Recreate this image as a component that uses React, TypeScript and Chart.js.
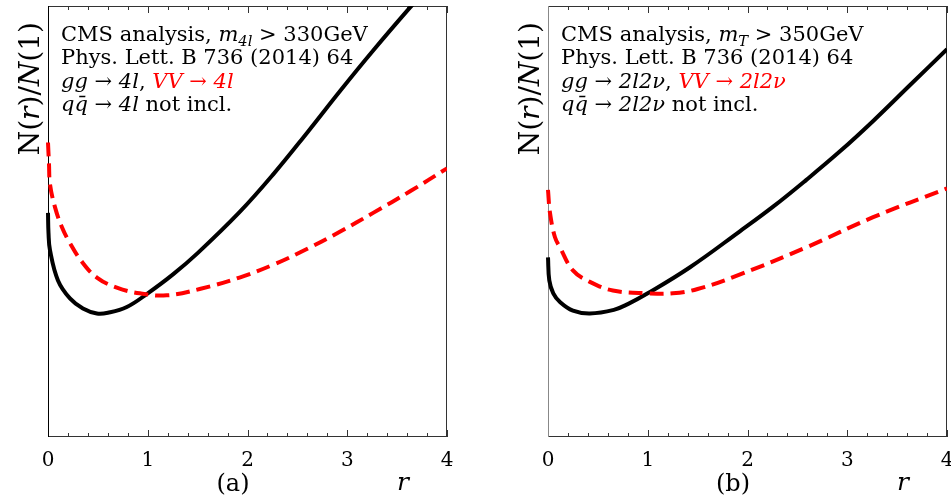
import { useEffect, useRef } from "react";
import { Chart, registerables } from "chart.js";
Chart.register(...registerables);

// ---------- data ----------
const X_TICK_STEP = 1;
const X_MIN = 0;
const X_MAX = 4;
const Y_MIN = 0;
const Y_MAX = 3;

// Panel (a): gg -> 4l (black), VV -> 4l (red dashed)
const A_GG_R = [0, 0.005, 0.02, 0.1, 0.22, 0.35, 0.49, 0.6, 0.79, 1.0, 1.25, 1.5, 1.92, 2.26, 2.6, 2.93, 3.26, 3.63, 4.0];
const A_GG_N = [1.56, 1.42, 1.3, 1.09, 0.965, 0.895, 0.86, 0.865, 0.905, 1.0, 1.13, 1.28, 1.565, 1.83, 2.12, 2.41, 2.69, 2.99, 3.28];
const A_VV_R = [0, 0.01, 0.02, 0.07, 0.14, 0.22, 0.34, 0.49, 0.69, 0.92, 1.19, 1.52, 1.92, 2.26, 2.6, 2.93, 3.26, 3.63, 4.0];
const A_VV_N = [2.05, 1.9, 1.76, 1.6, 1.46, 1.35, 1.22, 1.11, 1.04, 1.0, 0.986, 1.03, 1.11, 1.2, 1.31, 1.43, 1.56, 1.71, 1.87];

// Panel (b): gg -> 2l2nu (black), VV -> 2l2nu (red dashed)
const B_GG_R = [0, 0.013, 0.053, 0.12, 0.25, 0.42, 0.66, 0.8, 1.0, 1.42, 1.92, 2.26, 2.59, 2.93, 3.26, 3.63, 4.0];
const B_GG_N = [1.25, 1.09, 1.0, 0.94, 0.88, 0.86, 0.885, 0.925, 1.0, 1.18, 1.43, 1.605, 1.79, 1.99, 2.2, 2.45, 2.7];
const B_VV_R = [0, 0.02, 0.07, 0.12, 0.25, 0.42, 0.65, 1.0, 1.25, 1.5, 1.92, 2.59, 3.26, 4.0];
const B_VV_N = [1.72, 1.56, 1.39, 1.32, 1.16, 1.08, 1.02, 1.0, 1.0, 1.03, 1.13, 1.32, 1.53, 1.73];

type Seg = { t: string; it?: boolean; c?: string; sub?: boolean };

const RED = "#ff0000";

const A_TEXT: Seg[][] = [
  [{ t: "CMS analysis, " }, { t: "m", it: true }, { t: "4l", it: true, sub: true }, { t: " > 330GeV" }],
  [{ t: "Phys. Lett. B 736 (2014) 64" }],
  [{ t: "gg → 4l", it: true }, { t: ", " }, { t: "VV → 4l", it: true, c: RED }],
  [{ t: "qq̄ → 4l", it: true }, { t: " not incl." }],
];
const B_TEXT: Seg[][] = [
  [{ t: "CMS analysis, " }, { t: "m", it: true }, { t: "T", it: true, sub: true }, { t: " > 350GeV" }],
  [{ t: "Phys. Lett. B 736 (2014) 64" }],
  [{ t: "gg → 2l2ν", it: true }, { t: ", " }, { t: "VV → 2l2ν", it: true, c: RED }],
  [{ t: "qq̄ → 2l2ν", it: true }, { t: " not incl." }],
];
const Y_TITLE: Seg[] = [{ t: "N(" }, { t: "r", it: true }, { t: ")/" }, { t: "N", it: true }, { t: "(1)" }];
const X_TITLE: Seg[] = [{ t: "r", it: true }];

const FONT = '"DejaVu Serif"';

function segFont(s: Seg, size: number) {
  const sz = s.sub ? size * 0.7 : size;
  return `${s.it ? "italic " : ""}${sz}px ${FONT}`;
}
function segsWidth(ctx: CanvasRenderingContext2D, segs: Seg[], size: number) {
  let w = 0;
  for (const s of segs) {
    ctx.font = segFont(s, size);
    w += ctx.measureText(s.t).width;
  }
  return w;
}
function drawSegs(ctx: CanvasRenderingContext2D, segs: Seg[], x: number, y: number, size: number) {
  ctx.textAlign = "left";
  ctx.textBaseline = "alphabetic";
  for (const s of segs) {
    ctx.font = segFont(s, size);
    ctx.fillStyle = s.c || "#000";
    ctx.fillText(s.t, x, y + (s.sub ? size * 0.25 : 0));
    x += ctx.measureText(s.t).width;
  }
}

type PanelProps = {
  ggR: number[];
  ggN: number[];
  vvR: number[];
  vvN: number[];
  text: Seg[][];
  caption: string;
  width: number;
  leftColor: string;
};

function Panel(p: PanelProps) {
  const ref = useRef<HTMLCanvasElement | null>(null);
  useEffect(() => {
    const canvas = ref.current!;
    const annot = {
      id: "annot",
      beforeDatasetsDraw(chart: any) {
        const ctx = chart.ctx as CanvasRenderingContext2D;
        const a = chart.chartArea;
        const xs = chart.scales.x;
        ctx.save();
        ctx.lineWidth = 1;
        ctx.strokeStyle = "#333";
        ctx.beginPath();
        ctx.moveTo(a.left, a.top + 0.5);
        ctx.lineTo(a.right, a.top + 0.5);
        ctx.moveTo(a.right - 0.5, a.top);
        ctx.lineTo(a.right - 0.5, a.bottom);
        ctx.moveTo(a.left, a.bottom - 0.5);
        ctx.lineTo(a.right, a.bottom - 0.5);
        for (let i = 0; i <= 20; i++) {
          const px = Math.round(xs.getPixelForValue(i / 5)) + 0.5;
          const len = i % 5 === 0 ? 7 : 4;
          ctx.moveTo(px, a.bottom);
          ctx.lineTo(px, a.bottom - len);
          ctx.moveTo(px, a.top);
          ctx.lineTo(px, a.top + len);
        }
        ctx.stroke();
        ctx.strokeStyle = p.leftColor;
        ctx.beginPath();
        ctx.moveTo(a.left + 0.5, a.top);
        ctx.lineTo(a.left + 0.5, a.bottom);
        ctx.stroke();
        ctx.restore();
      },
      afterDraw(chart: any) {
        const ctx = chart.ctx as CanvasRenderingContext2D;
        const a = chart.chartArea;
        ctx.save();
        p.text.forEach((line, i) => drawSegs(ctx, line, a.left + 13, 41 + i * 23.4, 21));
        // y title, rotated, aligned to top
        const w = segsWidth(ctx, Y_TITLE, 28);
        ctx.translate(39, 22);
        ctx.rotate(-Math.PI / 2);
        drawSegs(ctx, Y_TITLE, -w, 0, 28);
        ctx.setTransform(1, 0, 0, 1, 0, 0);
        // caption and x title
        const cw = segsWidth(ctx, [{ t: p.caption }], 24);
        drawSegs(ctx, [{ t: p.caption }], 233 - cw / 2, 491, 24);
        drawSegs(ctx, X_TITLE, 397, 490, 25);
        ctx.restore();
      },
    };
    const toPts = (r: number[], n: number[]) => r.map((x, i) => ({ x, y: n[i] }));
    const chart = new Chart(canvas, {
      type: "line",
      data: {
        datasets: [
          {
            data: toPts(p.vvR, p.vvN),
            borderColor: RED,
            borderWidth: 4,
            borderDash: [14, 7],
            pointRadius: 0,
            tension: 0.4,
            fill: false,
            clip: { left: 3, top: 0, right: 0, bottom: 0 },
          },
          {
            data: toPts(p.ggR, p.ggN),
            borderColor: "#000",
            borderWidth: 4,
            pointRadius: 0,
            tension: 0.4,
            fill: false,
            clip: { left: 3, top: 0, right: 0, bottom: 0 },
          },
        ],
      },
      options: {
        responsive: false,
        animation: false,
        layout: { padding: { left: 48, top: 6, right: p.width - 447, bottom: 0 } },
        plugins: { legend: { display: false }, tooltip: { enabled: false }, title: { display: false } },
        scales: {
          x: {
            type: "linear",
            min: X_MIN,
            max: X_MAX,
            grid: { display: false, drawTicks: false },
            border: { display: false },
            ticks: {
              stepSize: X_TICK_STEP,
              font: { family: "DejaVu Serif", size: 20 },
              color: "#000",
              padding: 12,
              maxRotation: 0,
              autoSkip: false,
            },
            afterFit: (s: any) => {
              s.height = 66;
            },
          },
          y: { type: "linear", min: Y_MIN, max: Y_MAX, display: false },
        },
      },
      plugins: [annot],
    } as any);
    return () => chart.destroy();
  }, []);
  return <canvas ref={ref} width={p.width} height={503} style={{ display: "block", width: p.width, height: 503 }} />;
}

export default function App() {
  return (
    <div style={{ position: "fixed", left: 0, top: 0, width: 951, height: 503, overflow: "hidden", background: "#fff" }}>
      <div style={{ position: "absolute", left: 0, top: 0 }}>
        <Panel ggR={A_GG_R} ggN={A_GG_N} vvR={A_VV_R} vvN={A_VV_N} text={A_TEXT} caption="(a)" width={475} leftColor="#000" />
      </div>
      <div style={{ position: "absolute", left: 500, top: 0 }}>
        <Panel ggR={B_GG_R} ggN={B_GG_N} vvR={B_VV_R} vvN={B_VV_N} text={B_TEXT} caption="(b)" width={475} leftColor="#888" />
      </div>
    </div>
  );
}
